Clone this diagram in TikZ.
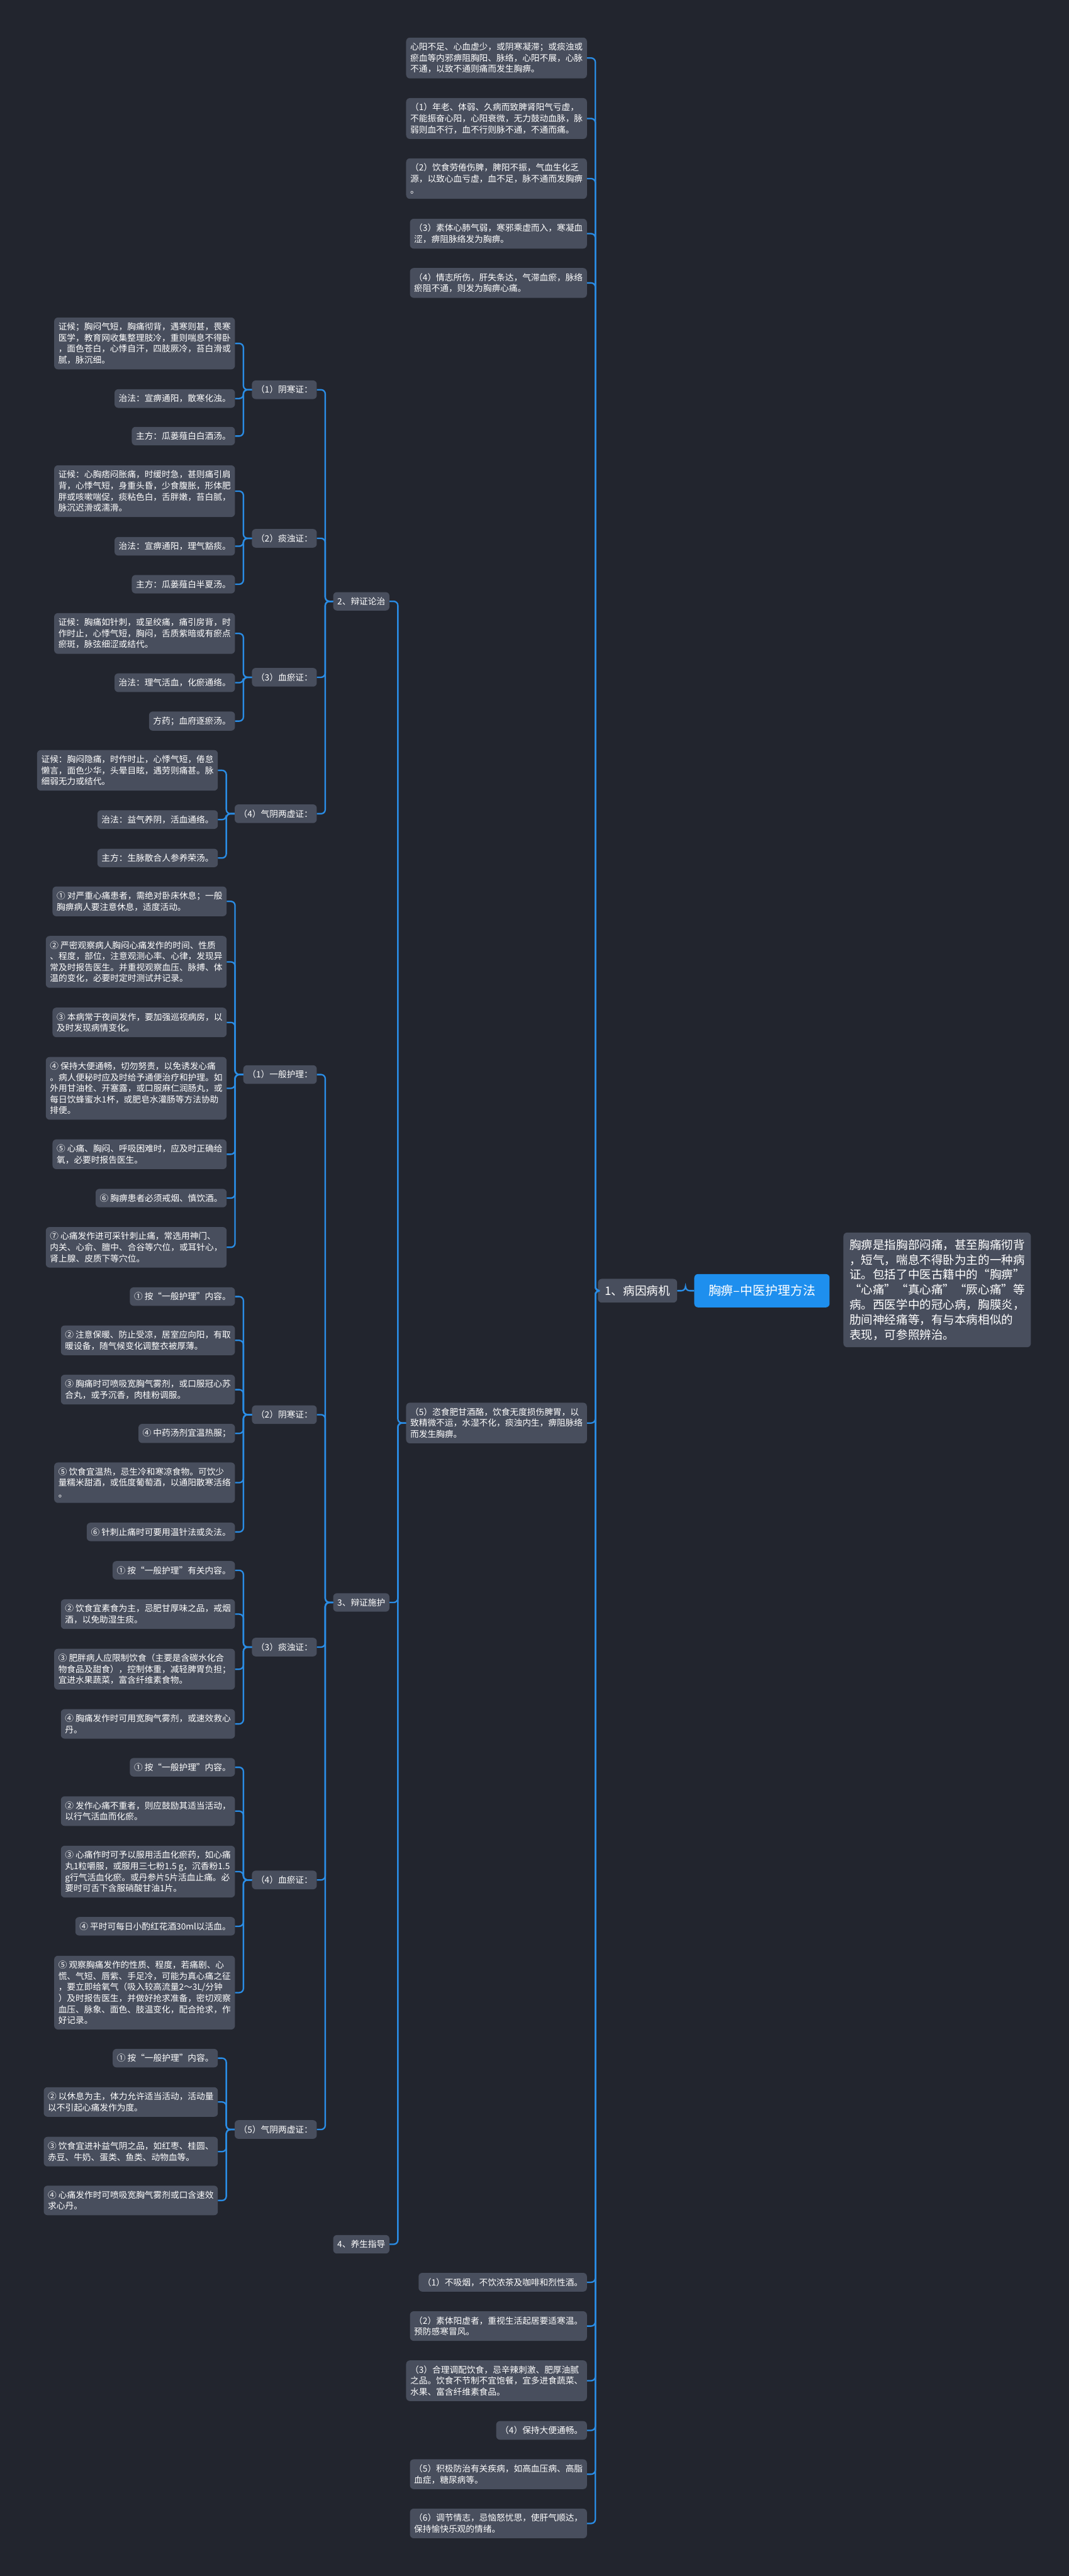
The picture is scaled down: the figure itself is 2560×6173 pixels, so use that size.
\documentclass[tikz,border=0pt]{standalone}
\usepackage{fontspec}
\setmainfont{Noto Sans CJK SC}
\usetikzlibrary{calc}

\definecolor{bgdark}{HTML}{22252E}
\definecolor{boxgray}{HTML}{484E5D}
\definecolor{lineblue}{HTML}{2A8CE4}
\definecolor{rootblue}{HTML}{1E8FEE}

% elbow connector: child on the left, parent on the right
\newcommand\branch[2]{\draw[link] (#2.east) -- ++(20,0) |- (#1.west);}

\begin{document}
\begin{tikzpicture}[x=1pt, y=-1pt,
    box/.style={rectangle, rounded corners=9pt, fill=boxgray, text=white, align=left,
      inner xsep=10pt, inner ysep=12.5pt, font=\fontsize{20.65}{26.5}\selectfont},
    leaf/.style={box, anchor=east},
    bigbox/.style={box, font=\fontsize{28}{36}\selectfont},
    link/.style={draw=lineblue, line width=3.5pt, rounded corners=10pt},
  ]
  \fill[bgdark] (0,0) rectangle (2560,6173);
  \useasboundingbox (0,0) rectangle (2560,6173);

  % root and first level
  \node[bigbox, fill=rootblue, inner xsep=34pt, inner ysep=26pt, font=\fontsize{30}{36}\selectfont] (root) at (1825,3093) {胸痹--中医护理方法};
  \node[bigbox, anchor=west, inner xsep=14.5pt, inner ysep=16pt] (desc) at (2020,3091) {胸痹是指胸部闷痛，甚至胸痛彻背\\，短气，喘息不得卧为主的一种病\\证。包括了中医古籍中的“胸痹”\\“心痛”“真心痛”“厥心痛”等\\病。西医学中的冠心病，胸膜炎，\\肋间神经痛等，有与本病相似的\\表现，可参照辨治。};
  \node[bigbox, anchor=east, inner xsep=17pt, inner ysep=15.5pt] (bingyin) at (1622,3093) {1、病因病机};

  % children of 1
  \node[leaf] (ya) at (1406,139) {心阳不足、心血虚少，或阴寒凝滞；或痰浊或\\瘀血等内邪痹阻胸阳、脉络，心阳不展，心脉\\不通，以致不通则痛而发生胸痹。};
  \node[leaf] (yb) at (1406,284) {（1）年老、体弱、久病而致脾肾阳气亏虚，\\不能振奋心阳，心阳衰微，无力鼓动血脉，脉\\弱则血不行，血不行则脉不通，不通而痛。};
  \node[leaf] (yc) at (1406,428) {（2）饮食劳倦伤脾，脾阳不振，气血生化乏\\源，以致心血亏虚，血不足，脉不通而发胸痹\\。};
  \node[leaf] (yd) at (1406,560) {（3）素体心肺气弱，寒邪乘虚而入，寒凝血\\涩，痹阻脉络发为胸痹。};
  \node[leaf] (ye) at (1406,678) {（4）情志所伤，肝失条达，气滞血瘀，脉络\\瘀阻不通，则发为胸痹心痛。};
  \node[leaf] (yf) at (1406,3410) {（5）恣食肥甘酒酪，饮食无度损伤脾胃，以\\致精微不运，水湿不化，痰浊内生，痹阻脉络\\而发生胸痹。};
  \node[leaf] (g1) at (1406,5469) {（1）不吸烟，不饮浓茶及咖啡和烈性酒。};
  \node[leaf] (g2) at (1406,5574) {（2）素体阳虚者，重视生活起居要适寒温。\\预防感寒冒风。};
  \node[leaf] (g3) at (1406,5705) {（3）合理调配饮食，忌辛辣刺激、肥厚油腻\\之品。饮食不节制不宜饱餐，宜多进食蔬菜、\\水果、富含纤维素食品。};
  \node[leaf] (g4) at (1406,5824) {（4）保持大便通畅。};
  \node[leaf] (g5) at (1406,5929) {（5）积极防治有关疾病，如高血压病、高脂\\血症，糖尿病等。};
  \node[leaf] (g6) at (1406,6047) {（6）调节情志，忌恼怒忧思，使肝气顺达，\\保持愉快乐观的情绪。};

  \node[leaf] (bz) at (933,1441) {2、辩证论治};
  \node[leaf] (sh) at (933,3840) {3、辩证施护};
  \node[leaf] (ys) at (933,5378) {4、养生指导};

  % 2、辩证论治
  \node[leaf] (bz1) at (759,934) {（1）阴寒证：};
  \node[leaf] (bz1a) at (563,823) {证候；胸闷气短，胸痛彻背，遇寒则甚，畏寒\\医学，教育网收集整理肢冷，重则喘息不得卧\\，面色苍白，心悸自汗，四肢厥冷，苔白滑或\\腻，脉沉细。};
  \node[leaf] (bz1b) at (563,955) {治法：宣痹通阳，散寒化浊。};
  \node[leaf] (bz1c) at (563,1045) {主方：瓜蒌薤白白酒汤。};

  \node[leaf] (bz2) at (759,1290) {（2）痰浊证：};
  \node[leaf] (bz2a) at (563,1177) {证候：心胸痞闷胀痛，时缓时急，甚则痛引肩\\背，心悸气短，身重头昏，少食腹胀，形体肥\\胖或咳嗽喘促，痰粘色白，舌胖嫩，苔白腻，\\脉沉迟滑或濡滑。};
  \node[leaf] (bz2b) at (563,1309) {治法：宣痹通阳，理气豁痰。};
  \node[leaf] (bz2c) at (563,1400) {主方：瓜蒌薤白半夏汤。};

  \node[leaf] (bz3) at (759,1623) {（3）血瘀证：};
  \node[leaf] (bz3a) at (563,1518) {证候：胸痛如针刺，或呈绞痛，痛引房背，时\\作时止，心悸气短，胸闷，舌质紫暗或有瘀点\\瘀斑，脉弦细涩或结代。};
  \node[leaf] (bz3b) at (563,1636) {治法：理气活血，化瘀通络。};
  \node[leaf] (bz3c) at (563,1728) {方药；血府逐瘀汤。};

  \node[leaf] (bz4) at (759,1950) {（4）气阴两虚证：};
  \node[leaf] (bz4a) at (522,1846) {证候：胸闷隐痛，时作时止，心悸气短，倦怠\\懒言，面色少华，头晕目眩，遇劳则痛甚。脉\\细弱无力或结代。};
  \node[leaf] (bz4b) at (522,1964) {治法：益气养阴，活血通络。};
  \node[leaf] (bz4c) at (522,2056) {主方：生脉散合人参养荣汤。};

  % 3、辩证施护
  \node[leaf] (sh1) at (759,2575) {（1）一般护理：};
  \node[leaf] (sh1a) at (543,2160) {① 对严重心痛患者，需绝对卧床休息；一般\\胸痹病人要注意休息，适度活动。};
  \node[leaf] (sh1b) at (543,2305) {② 严密观察病人胸闷心痛发作的时间、性质\\、程度，部位，注意观测心率、心律，发现异\\常及时报告医生。并重视观察血压、脉搏、体\\温的变化，必要时定时测试并记录。};
  \node[leaf] (sh1c) at (543,2450) {③ 本病常于夜间发作，要加强巡视病房，以\\及时发现病情变化。};
  \node[leaf] (sh1d) at (543,2608) {④ 保持大便通畅，切勿努责，以免诱发心痛\\。病人便秘时应及时给予通便治疗和护理。如\\外用甘油栓、开塞露，或口服麻仁润肠丸，或\\每日饮蜂蜜水1杯，或肥皂水灌肠等方法协助\\排便。};
  \node[leaf] (sh1e) at (543,2766) {⑤ 心痛、胸闷、呼吸困难时，应及时正确给\\氧，必要时报告医生。};
  \node[leaf] (sh1f) at (543,2871) {⑥ 胸痹患者必须戒烟、慎饮酒。};
  \node[leaf] (sh1g) at (543,2989) {⑦ 心痛发作进可采针刺止痛，常选用神门、\\内关、心俞、膻中、合谷等穴位，或耳针心，\\肾上腺、皮质下等穴位。};

  \node[leaf] (sh2) at (759,3390) {（2）阴寒证：};
  \node[leaf] (sh2a) at (563,3107) {① 按“一般护理”内容。};
  \node[leaf] (sh2b) at (563,3212) {② 注意保暖、防止受凉，居室应向阳，有取\\暖设备，随气候变化调整衣被厚薄。};
  \node[leaf] (sh2c) at (563,3330) {③ 胸痛时可喷吸宽胸气雾剂，或口服冠心苏\\合丸，或予沉香，肉桂粉调服。};
  \node[leaf] (sh2d) at (563,3435) {④ 中药汤剂宜温热服；};
  \node[leaf] (sh2e) at (563,3553) {⑤ 饮食宜温热，忌生冷和寒凉食物。可饮少\\量糯米甜酒，或低度葡萄酒，以通阳散寒活络\\。};
  \node[leaf] (sh2f) at (563,3671) {⑥ 针刺止痛时可要用温针法或灸法。};

  \node[leaf] (sh3) at (759,3947) {（3）痰浊证：};
  \node[leaf] (sh3a) at (563,3763) {① 按“一般护理”有关内容。};
  \node[leaf] (sh3b) at (563,3868) {② 饮食宜素食为主，忌肥甘厚味之品，戒烟\\酒，以免助湿生痰。};
  \node[leaf] (sh3c) at (563,4000) {③ 肥胖病人应限制饮食（主要是含碳水化合\\物食品及甜食），控制体重，减轻脾胃负担；\\宜进水果蔬菜，富含纤维素食物。};
  \node[leaf] (sh3d) at (563,4131) {④ 胸痛发作时可用宽胸气雾剂，或速效救心\\丹。};

  \node[leaf] (sh4) at (759,4505) {（4）血瘀证：};
  \node[leaf] (sh4a) at (563,4235) {① 按“一般护理”内容。};
  \node[leaf] (sh4b) at (563,4340) {② 发作心痛不重者，则应鼓励其适当活动，\\以行气活血而化瘀。};
  \node[leaf] (sh4c) at (563,4485) {③ 心痛作时可予以服用活血化瘀药，如心痛\\丸1粒嚼服，或服用三七粉1.5 g，沉香粉1.5\\g行气活血化瘀。或丹参片5片活血止痛。必\\要时可舌下含服硝酸甘油1片。};
  \node[leaf] (sh4d) at (563,4616) {④ 平时可每日小酌红花酒30ml以活血。};
  \node[leaf] (sh4e) at (563,4775) {⑤ 观察胸痛发作的性质、程度，若痛剧、心\\慌、气短、唇紫、手足冷，可能为真心痛之征\\，要立即给氧气（吸入较高流量2～3L/分钟\\）及时报告医生，并做好抢求准备，密切观察\\血压、脉象、面色、肢温变化，配合抢求，作\\好记录。};

  \node[leaf] (sh5) at (759,5103) {（5）气阴两虚证：};
  \node[leaf] (sh5a) at (522,4932) {① 按“一般护理”内容。};
  \node[leaf] (sh5b) at (522,5037) {② 以休息为主，体力允许适当活动，活动量\\以不引起心痛发作为度。};
  \node[leaf] (sh5c) at (522,5156) {③ 饮食宜进补益气阴之品，如红枣、桂圆、\\赤豆、牛奶、蛋类、鱼类、动物血等。};
  \node[leaf] (sh5d) at (522,5273) {④ 心痛发作时可喷吸宽胸气雾剂或口含速效\\求心丹。};

  % connectors
  \branch{root}{bingyin}
  \foreach \c in {ya,yb,yc,yd,ye,yf,g1,g2,g3,g4,g5,g6} {\branch{bingyin}{\c}}
  \foreach \c in {bz,sh,ys} {\branch{yf}{\c}}
  \foreach \c in {bz1,bz2,bz3,bz4} {\branch{bz}{\c}}
  \foreach \c in {sh1,sh2,sh3,sh4,sh5} {\branch{sh}{\c}}
  \foreach \c in {a,b,c} {\branch{bz1}{bz1\c} \branch{bz2}{bz2\c} \branch{bz3}{bz3\c} \branch{bz4}{bz4\c}}
  \foreach \c in {a,b,c,d,e,f,g} {\branch{sh1}{sh1\c}}
  \foreach \c in {a,b,c,d,e,f} {\branch{sh2}{sh2\c}}
  \foreach \c in {a,b,c,d} {\branch{sh3}{sh3\c} \branch{sh5}{sh5\c}}
  \foreach \c in {a,b,c,d,e} {\branch{sh4}{sh4\c}}
\end{tikzpicture}
\end{document}
